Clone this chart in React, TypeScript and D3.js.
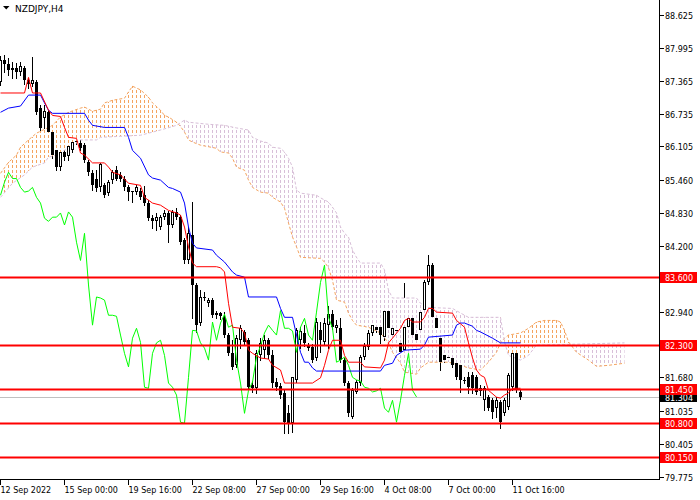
import { useEffect } from 'react'
import * as d3 from 'd3'

type Pt = [number, number]

const symbol = 'NZDJPY,H4'

// H4 candles, bar 0 = 12 Sep 2022 00:00
const opens = [
  87.34, 87.76, 87.68, 87.57, 87.61, 87.53, 87.61, 87.38, 87.30, 87.34,
  86.84, 86.65, 86.76, 86.38, 86.03, 85.71, 86.00, 85.92, 86.03, 86.19,
  86.17, 86.13, 85.80, 85.59, 85.49, 85.32, 85.36, 85.21, 85.46, 85.65,
  85.56, 85.49, 85.32, 85.23, 85.23, 85.26, 85.17, 85.02, 84.73, 84.67,
  84.56, 84.75, 84.83, 84.60, 84.85, 84.75, 84.31, 83.92, 84.41, 83.45,
  82.72, 83.22, 83.10, 83.16, 82.91, 82.91, 82.83, 82.49, 82.14, 81.91,
  82.39, 82.55, 82.39, 81.53, 81.47, 82.10, 82.20, 82.39, 82.10, 81.59,
  81.51, 81.38, 80.99, 80.80, 81.63, 82.39, 82.53, 82.30, 82.26, 82.05,
  82.58, 82.35, 82.68, 82.89, 82.62, 82.62, 82.01, 81.57, 80.92, 81.40,
  81.57, 82.07, 82.26, 82.53, 82.64, 82.64, 82.45, 82.96, 82.49, 82.58,
  82.34, 82.20, 82.64, 82.81, 82.51, 82.58, 82.97, 83.50, 83.83, 82.81,
  82.43, 82.10, 82.05, 82.05, 81.95, 81.91, 81.63, 81.68, 81.72, 81.68,
  81.47, 81.24, 81.30, 81.24, 81.09, 81.20, 80.99, 81.11, 81.49, 82.14,
  81.40,
]
const highs = [
  87.84, 87.86, 87.80, 87.72, 87.70, 87.72, 87.65, 87.42, 87.82, 87.38,
  86.90, 86.90, 86.80, 86.42, 86.07, 86.03, 86.03, 86.17, 86.32, 86.32,
  86.23, 86.17, 85.84, 85.65, 85.65, 85.78, 85.40, 85.46, 85.65, 85.73,
  85.61, 85.53, 85.36, 85.26, 85.36, 85.30, 85.34, 85.08, 84.79, 84.83,
  84.79, 84.88, 84.87, 84.88, 84.92, 84.79, 84.35, 84.56, 85.04, 83.49,
  83.35, 83.31, 83.20, 83.20, 82.95, 82.93, 82.93, 82.53, 82.39, 82.49,
  82.68, 82.58, 82.43, 81.61, 82.20, 82.43, 82.49, 82.43, 82.20, 81.67,
  81.57, 81.43, 81.15, 81.68, 82.62, 82.64, 82.68, 82.34, 82.32, 82.81,
  82.74, 82.81, 83.04, 82.97, 82.77, 82.81, 82.05, 81.61, 81.47, 81.63,
  82.10, 82.34, 82.58, 82.81, 82.70, 82.68, 83.24, 83.10, 83.10, 82.68,
  83.10, 83.49, 82.87, 83.16, 82.58, 82.96, 83.54, 84.02, 83.88, 82.87,
  82.49, 82.16, 82.14, 82.26, 82.01, 81.97, 81.68, 81.78, 81.78, 81.72,
  81.53, 81.51, 81.34, 81.28, 81.30, 81.24, 81.28, 81.76, 82.34, 82.20,
  81.43,
]
const lows = [
  87.28, 87.53, 87.47, 87.42, 87.42, 87.47, 87.30, 87.22, 87.26, 86.73,
  86.42, 86.46, 86.34, 85.88, 85.65, 85.65, 85.84, 85.84, 86.00, 86.15,
  86.03, 85.80, 85.56, 85.28, 85.26, 85.26, 85.13, 85.17, 85.40, 85.46,
  85.44, 85.28, 85.08, 85.04, 85.19, 85.10, 84.98, 84.69, 84.54, 84.50,
  84.52, 84.71, 84.27, 84.56, 84.71, 84.23, 83.88, 83.88, 82.81, 82.55,
  82.68, 83.16, 83.04, 82.83, 82.81, 82.79, 82.45, 82.10, 81.84, 81.88,
  82.24, 82.30, 81.45, 81.40, 81.38, 82.01, 82.05, 82.05, 81.49, 81.43,
  81.28, 80.61, 80.61, 80.63, 81.59, 82.24, 82.28, 82.20, 81.97, 82.01,
  82.16, 82.30, 82.24, 82.60, 82.55, 81.97, 81.53, 80.94, 80.90, 81.38,
  81.53, 82.03, 82.22, 82.49, 82.55, 82.34, 82.39, 82.58, 82.45, 82.49,
  82.10, 82.16, 82.60, 82.45, 82.35, 82.55, 82.93, 83.46, 82.79, 82.58,
  81.82, 81.97, 82.01, 81.88, 81.64, 81.40, 81.57, 81.38, 81.38, 81.36,
  81.34, 81.05, 81.05, 80.90, 80.92, 80.71, 80.95, 81.07, 81.43, 81.40,
  81.26,
]
const closes = [
  87.76, 87.68, 87.57, 87.61, 87.53, 87.65, 87.38, 87.30, 87.38, 86.76,
  86.46, 86.78, 86.38, 85.94, 85.71, 86.00, 85.90, 86.11, 86.19, 86.21,
  86.07, 85.84, 85.61, 85.36, 85.30, 85.77, 85.17, 85.42, 85.61, 85.49,
  85.49, 85.32, 85.23, 85.25, 85.32, 85.13, 85.02, 84.73, 84.67, 84.75,
  84.75, 84.83, 84.60, 84.85, 84.75, 84.27, 83.92, 84.44, 83.45, 82.68,
  83.22, 83.20, 83.16, 82.87, 82.87, 82.85, 82.49, 82.14, 81.88, 82.43,
  82.62, 82.35, 81.49, 81.47, 82.14, 82.34, 82.39, 82.10, 81.57, 81.49,
  81.34, 80.82, 80.80, 81.68, 82.58, 82.57, 82.34, 82.24, 82.01, 82.74,
  82.39, 82.72, 82.89, 82.64, 82.68, 82.01, 81.57, 80.99, 81.43, 81.59,
  82.07, 82.28, 82.53, 82.68, 82.58, 82.49, 82.96, 82.62, 82.62, 82.57,
  82.16, 82.64, 82.81, 82.49, 82.39, 82.93, 83.50, 83.83, 82.83, 82.62,
  81.97, 82.01, 82.07, 81.91, 81.68, 81.63, 81.61, 81.49, 81.47, 81.40,
  81.42, 81.47, 81.09, 81.01, 81.24, 80.82, 81.24, 81.72, 82.14, 81.43,
  81.304,
]

// Ichimoku lines, vertices as [bar, price]
const tenkan: Pt[] = [
  [0, 87.13], [6, 87.13], [7, 87.43], [8, 87.13], [10, 87.13], [12, 86.8], [13, 86.7],
  [15, 86.68], [16, 86.47], [17, 86.28], [19, 86.26], [20, 85.98], [21, 85.94], [23, 85.79],
  [26, 85.79], [27, 85.71], [28, 85.61], [30, 85.56], [31, 85.48], [32, 85.4], [35, 85.36],
  [36, 85.13], [38, 85.02], [40, 84.98], [42, 84.88], [44, 84.83], [45, 84.79], [46, 84.56],
  [47, 84.18], [48, 83.87], [49, 83.8], [54, 83.8], [55, 83.78], [56, 83.7], [57, 83.1],
  [58, 82.64], [60, 82.62], [61, 82.53], [62, 82.2], [63, 82.14], [65, 82.05], [67, 82.03],
  [68, 81.91], [70, 81.82], [71, 81.57], [78, 81.57], [80, 81.67], [81, 81.91], [82, 82.2],
  [83, 82.39], [85, 82.39], [86, 82.1], [87, 81.97], [90, 81.97], [91, 81.88], [95, 81.86],
  [96, 82.01], [97, 82.34], [98, 82.43], [100, 82.62], [101, 82.77], [102, 82.81], [103, 82.74],
  [105, 82.74], [106, 82.83], [107, 83.0], [108, 83.0], [109, 82.93], [113, 82.91], [114, 82.77],
  [116, 82.64], [117, 82.34], [118, 82.05], [119, 81.82], [120, 81.72], [121, 81.68], [122, 81.43],
  [124, 81.3], [125, 81.28], [126, 81.34], [127, 81.38], [128, 81.47], [130, 81.47],
]
const kijun: Pt[] = [
  [0, 86.76], [2, 86.84], [5, 86.88], [7, 87.09], [10, 87.09], [11, 86.94], [12, 86.8],
  [13, 86.74], [21, 86.74], [22, 86.61], [23, 86.51], [26, 86.47], [31, 86.47], [32, 86.28],
  [33, 86.03], [35, 85.88], [37, 85.56], [38, 85.5], [40, 85.46], [42, 85.32], [43, 85.3],
  [45, 85.23], [46, 85.02], [47, 84.56], [48, 84.25], [49, 84.16], [53, 84.12], [54, 84.02],
  [56, 83.89], [58, 83.7], [59, 83.64], [61, 83.6], [62, 83.22], [69, 83.22], [70, 83.0],
  [71, 82.83], [73, 82.83], [74, 82.49], [75, 82.16], [76, 81.97], [77, 81.97], [78, 81.86],
  [79, 81.8], [95, 81.8], [96, 81.91], [98, 81.95], [99, 82.1], [101, 82.2], [105, 82.22],
  [106, 82.3], [107, 82.45], [113, 82.49], [114, 82.68], [115, 82.72], [116, 82.72], [118, 82.66],
  [119, 82.58], [120, 82.55], [123, 82.43], [125, 82.34], [130, 82.34],
]
const spanA: Pt[] = [
  [0, 85.59], [2, 85.8], [4, 85.94], [5, 86.09], [7, 86.23], [9, 86.36], [12, 86.47],
  [13, 86.51], [15, 86.67], [17, 86.76], [20, 86.84], [21, 86.86], [23, 86.78], [25, 86.82],
  [26, 86.94], [28, 86.99], [31, 87.03], [32, 87.15], [33, 87.26], [35, 87.19], [37, 87.05],
  [38, 86.94], [40, 86.8], [41, 86.7], [42, 86.67], [44, 86.57], [45, 86.49], [46, 86.38],
  [47, 86.23], [48, 86.19], [50, 86.13], [54, 86.07], [55, 86.0], [57, 85.98], [58, 85.88],
  [59, 85.71], [61, 85.65], [62, 85.46], [63, 85.32], [65, 85.23], [67, 85.21], [68, 85.13],
  [70, 85.04], [71, 84.92], [72, 84.64], [73, 84.37], [74, 84.18], [75, 83.98], [80, 83.96],
  [81, 83.89], [82, 83.78], [83, 83.54], [84, 83.16], [86, 83.12], [87, 82.91], [88, 82.77],
  [89, 82.68], [92, 82.64], [95, 82.53], [97, 82.34], [98, 82.16], [100, 81.95], [101, 81.78],
  [104, 81.74], [105, 81.86], [107, 81.97], [112, 81.97], [115, 81.91], [117, 81.86], [120, 81.82],
  [122, 81.97], [124, 82.16], [125, 82.34], [126, 82.43], [127, 82.49], [130, 82.53], [132, 82.62],
  [134, 82.74], [136, 82.77], [139, 82.77], [140, 82.74], [141, 82.58], [142, 82.36], [144, 82.16],
  [147, 82.01], [149, 81.89], [152, 81.91], [156, 81.95],
]
const spanB: Pt[] = [
  [0, 85.13], [3, 85.4], [6, 85.56], [8, 85.71], [11, 85.79], [12, 85.9], [14, 85.94],
  [19, 86.17], [20, 86.23], [24, 86.23], [25, 86.28], [35, 86.32], [40, 86.42], [44, 86.51],
  [46, 86.61], [47, 86.57], [52, 86.53], [56, 86.51], [59, 86.46], [62, 86.42], [63, 86.28],
  [65, 86.21], [67, 86.17], [68, 86.09], [70, 86.07], [71, 86.0], [72, 85.88], [73, 85.71],
  [74, 85.27], [75, 85.21], [79, 85.17], [80, 85.12], [82, 85.04], [83, 84.94], [84, 84.83],
  [85, 84.56], [86, 84.44], [87, 84.37], [88, 84.12], [89, 83.98], [90, 83.87], [95, 83.87],
  [96, 83.74], [97, 83.35], [98, 83.2], [104, 83.2], [105, 83.1], [107, 83.02], [113, 83.0],
  [116, 82.87], [117, 82.83], [125, 82.83], [126, 82.36], [127, 82.1], [130, 82.01], [132, 82.1],
  [134, 82.3], [136, 82.3], [156, 82.34],
]
const chikouShift = 26

const levels = [83.6, 82.3, 81.45, 80.8, 80.15]
const lastPrice = 81.304
const priceTicks = [88.625, 87.995, 87.365, 86.735, 86.105, 85.46, 84.83, 84.2, 82.94, 81.68, 81.035, 80.405, 79.775]
const timeTickBars = [0, 16, 32, 48, 64, 80, 96, 112, 128]
const timeTickLabels = [
  '12 Sep 2022', '15 Sep 00:00', '19 Sep 16:00', '22 Sep 08:00', '27 Sep 00:00',
  '29 Sep 16:00', '4 Oct 08:00', '7 Oct 00:00', '11 Oct 16:00',
]

const W = 700
const H = 500
const axisX = 659.5
const axisY = 479.5
const font = 'DejaVu Sans'

export default function App() {
  useEffect(() => {
    document.body.style.margin = '0'
  }, [])

  const x = d3.scaleLinear().domain([0, 1]).range([0.5, 4.5])
  const y = d3.scaleLinear().domain([79.775, 88.625]).range([476.7, 15])
  const py = (p: number) => Math.round(y(p)) + 0.5

  const line = d3.line<Pt>().x(d => x(d[0])).y(d => y(d[1]))
  const cloud = line([...spanA, ...spanB.slice().reverse()]) + 'Z'
  const aboveB = d3.area<Pt>().x(d => x(d[0])).y0(0).y1(d => y(d[1]))(spanB) || ''
  const belowB = d3.area<Pt>().x(d => x(d[0])).y0(H).y1(d => y(d[1]))(spanB) || ''
  const chikou: Pt[] = closes.slice(chikouShift).map((c, i) => [i, c])

  const bars = d3.range(closes.length)

  return (
    <svg width={W} height={H} style={{ position: 'fixed', left: 0, top: 0, background: '#fff' }}>
      <defs>
        <pattern id="hatchUp" patternUnits="userSpaceOnUse" width={4} height={5}>
          <rect x={0} y={0} width={1} height={3} fill="#f4a460" />
          <rect x={0} y={3} width={1} height={2} fill="#fff" />
        </pattern>
        <pattern id="hatchDn" patternUnits="userSpaceOnUse" width={4} height={5}>
          <rect x={0} y={0} width={1} height={3} fill="#d8bfd8" />
          <rect x={0} y={3} width={1} height={2} fill="#fff" />
        </pattern>
        <clipPath id="aboveB"><path d={aboveB} /></clipPath>
        <clipPath id="belowB"><path d={belowB} /></clipPath>
        <clipPath id="plot"><rect x={0} y={0} width={axisX} height={axisY} /></clipPath>
      </defs>

      <g clipPath="url(#plot)">
        {/* bid line */}
        <line x1={0} x2={axisX} y1={py(lastPrice)} y2={py(lastPrice)} stroke="#c0c0c0" />

        {/* wicks */}
        <g shapeRendering="crispEdges">
          {bars.map(i => (
            <line key={i} x1={x(i)} x2={x(i)} y1={Math.round(y(highs[i]))} y2={Math.round(y(lows[i])) + 1} stroke="#000" />
          ))}
        </g>

        {/* kumo */}
        <path d={cloud} fill="url(#hatchUp)" clipPath="url(#aboveB)" shapeRendering="crispEdges" />
        <path d={cloud} fill="url(#hatchDn)" clipPath="url(#belowB)" shapeRendering="crispEdges" />
        <path d={line(spanA) || ''} fill="none" stroke="#f4a460" strokeDasharray="3,2" />
        <path d={line(spanB) || ''} fill="none" stroke="#d8bfd8" strokeDasharray="3,2" />

        {/* bodies */}
        <g shapeRendering="crispEdges">
          {bars.map(i => {
            const o = opens[i]
            const c = closes[i]
            const top = Math.round(y(Math.max(o, c)))
            const bot = Math.round(y(Math.min(o, c)))
            if (bot - top < 2) {
              return <rect key={i} x={x(i) - 1.5} y={top} width={3} height={1} fill="#000" />
            }
            if (c < o) {
              return <rect key={i} x={x(i) - 1.5} y={top} width={3} height={bot - top} fill="#000" />
            }
            return (
              <rect key={i} x={x(i) - 1} y={top + 0.5} width={2} height={bot - top - 1}
                fill="#fff" stroke="#000" />
            )
          })}
        </g>

        <path d={line(chikou) || ''} fill="none" stroke="#00ff00" />
        <path d={line(kijun) || ''} fill="none" stroke="#0000ff" />
        <path d={line(tenkan) || ''} fill="none" stroke="#ff0000" />

        {/* horizontal levels */}
        {levels.map(l => (
          <line key={l} x1={0} x2={axisX} y1={Math.round(y(l)) + 0.5} y2={Math.round(y(l)) + 0.5}
            stroke="#ff0000" strokeWidth={2} />
        ))}
      </g>

      {/* axes */}
      <g shapeRendering="crispEdges" stroke="#000">
        <line x1={axisX} x2={axisX} y1={0} y2={axisY} />
        <line x1={0} x2={axisX} y1={axisY} y2={axisY} />
        {priceTicks.map(t => (
          <line key={t} x1={axisX} x2={axisX + 4} y1={py(t)} y2={py(t)} />
        ))}
        {timeTickBars.map(b => (
          <line key={b} x1={x(b)} x2={x(b)} y1={axisY} y2={axisY + 5} />
        ))}
      </g>

      <g fontFamily={font} fontSize={8} fill="#000">
        {priceTicks.map(t => (
          <text key={t} x={665} y={py(t) + 3}>{t.toFixed(3)}</text>
        ))}
        {timeTickBars.map((b, k) => (
          <text key={b} x={x(b)} y={492.5}>{timeTickLabels[k]}</text>
        ))}
      </g>

      {/* price labels */}
      <g fontFamily={font} fontSize={8}>
        <rect x={660} y={py(lastPrice) - 5.5} width={37} height={10} fill="#000" />
        <text x={665} y={py(lastPrice) + 3} fill="#fff">{lastPrice.toFixed(3)}</text>
        {levels.map(l => (
          <g key={l}>
            <rect x={660} y={py(l) - 5.5} width={37} height={11} fill="#ff0000" />
            <text x={665} y={py(l) + 3.5} fill="#fff">{l.toFixed(3)}</text>
          </g>
        ))}
      </g>

      {/* title */}
      <path d="M3,6 L9.5,6 L6.25,9.5 Z" fill="#000" />
      <text x={15} y={11.5} fontFamily={font} fontSize={9} fill="#000">{symbol}</text>
    </svg>
  )
}
